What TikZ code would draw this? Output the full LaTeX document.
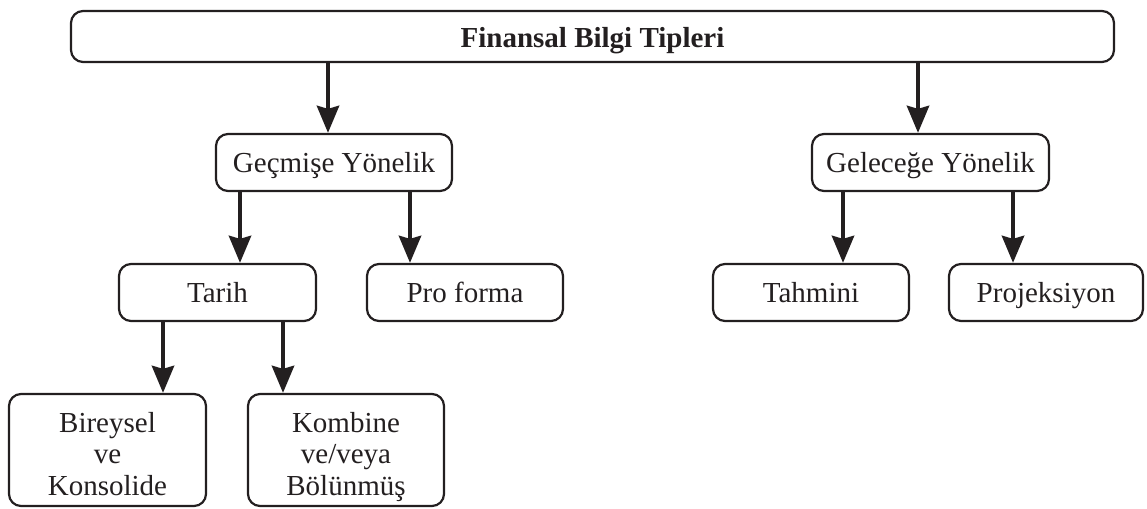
\documentclass[tikz,border=0pt]{standalone}
\usepackage{fontspec}
\setmainfont{Liberation Serif}
\usetikzlibrary{arrows.meta,positioning}
\definecolor{ink}{RGB}{35,31,32}

\begin{document}
\begin{tikzpicture}[
    x=1pt, y=-1pt,
    box/.style={draw=ink, line width=2.2pt, rounded corners=12pt, inner sep=0pt, align=center,
      minimum height=57pt, text height=20pt, text depth=0pt, font=\fontsize{29}{31.5}\selectfont, text=ink},
    tallbox/.style={box, minimum height=112pt, text height=90pt, text depth=0pt},
    arr/.style={draw=ink, line width=4.6pt, -{Stealth[length=27pt, width=22pt, inset=3pt]}},
  ]
  \useasboundingbox (0,0) rectangle (1147,508);
  % Boxes
  \node[box, minimum width=1043pt, minimum height=51pt, text height=22pt, font=\fontsize{29}{31.5}\selectfont\bfseries] (tipler) at (592.5,36.5) {Finansal Bilgi Tipleri};
  \node[box, minimum width=236pt] (gecmis) at (334,162.5) {Geçmişe Yönelik};
  \node[box, minimum width=237pt] (gelecek) at (930.5,162.5) {Geleceğe Yönelik};
  \node[box, minimum width=197pt] (tarih) at (217.5,292.5) {Tarih};
  \node[box, minimum width=196pt] (proforma) at (465,292.5) {Pro forma};
  \node[box, minimum width=196pt] (tahmini) at (811,292.5) {Tahmini};
  \node[box, minimum width=194pt] (projeksiyon) at (1046,292.5) {Projeksiyon};
  \node[tallbox, minimum width=197pt] (bireysel) at (107.5,450) {Bireysel\\ve\\Konsolide};
  \node[tallbox, minimum width=196pt] (kombine) at (346,450) {Kombine\\ve/veya\\Bölünmüş};

  % Arrows
  \draw[arr] ([xshift=-6]gecmis.north |- tipler.south) -- ([xshift=-6]gecmis.north);
  \draw[arr] ([xshift=-12.5]gelecek.north |- tipler.south) -- ([xshift=-12.5]gelecek.north);
  \draw[arr] ([xshift=22.5]tarih.north |- gecmis.south) -- ([xshift=22.5]tarih.north);
  \draw[arr] ([xshift=-55]proforma.north |- gecmis.south) -- ([xshift=-55]proforma.north);
  \draw[arr] ([xshift=32]tahmini.north |- gelecek.south) -- ([xshift=32]tahmini.north);
  \draw[arr] ([xshift=-33]projeksiyon.north |- gelecek.south) -- ([xshift=-33]projeksiyon.north);
  \draw[arr] ([xshift=55.5]bireysel.north |- tarih.south) -- ([xshift=55.5]bireysel.north);
  \draw[arr] ([xshift=-63]kombine.north |- tarih.south) -- ([xshift=-63]kombine.north);
\end{tikzpicture}
\end{document}
